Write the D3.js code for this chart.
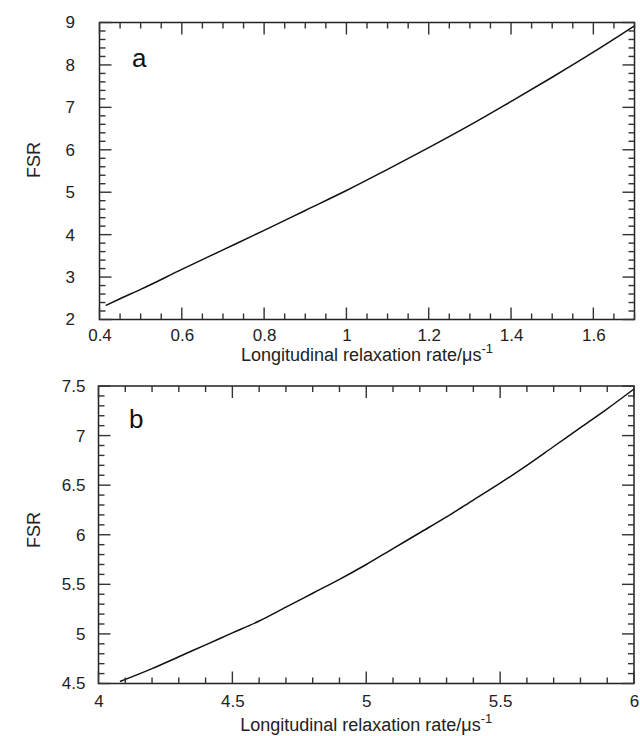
<!DOCTYPE html>
<html>
<head>
<meta charset="utf-8">
<script src="https://cdn.jsdelivr.net/npm/d3@7"></script>
<style>
  body { margin: 0; background: #fff; }
  svg { display: block; font-family: "Liberation Sans", Arial, Helvetica, sans-serif; }
</style>
</head>
<body>
<svg id="chart" width="640" height="736"></svg>
<script>
// Panel a data
const rateA = [0.415, 0.45, 0.5, 0.6, 0.7, 0.8, 0.9, 1.0, 1.1, 1.2, 1.3, 1.4, 1.5, 1.6, 1.7];
const fsrA  = [2.33, 2.49, 2.71, 3.18, 3.64, 4.10, 4.57, 5.04, 5.54, 6.05, 6.58, 7.14, 7.71, 8.30, 8.92];

// Panel b data
const rateB = [4.08, 4.2, 4.3, 4.4, 4.5, 4.6, 4.7, 4.8, 4.9, 5.0, 5.1, 5.2, 5.3, 5.4, 5.5, 5.6, 5.7, 5.8, 5.9, 6.0];
const fsrB  = [4.52, 4.65, 4.77, 4.89, 5.01, 5.13, 5.27, 5.41, 5.55, 5.70, 5.86, 6.02, 6.18, 6.35, 6.52, 6.70, 6.89, 7.08, 7.27, 7.47];

// Tick values
const xTicksA = [0.4, 0.6, 0.8, 1, 1.2, 1.4, 1.6];
const yTicksA = [2, 3, 4, 5, 6, 7, 8, 9];
const xTicksB = [4, 4.5, 5, 5.5, 6];
const yTicksB = [4.5, 5, 5.5, 6, 6.5, 7, 7.5];

const svg = d3.select("#chart");

function drawPanel(p) {
    const x = d3.scaleLinear().domain(p.xDomain).range([p.left, p.right]);
    const y = d3.scaleLinear().domain(p.yDomain).range([p.bottom, p.top]);
    const g = svg.append("g");

    const xMinor = d3.range(p.xDomain[0], p.xDomain[1] + 1e-9, p.xMinorStep).map(v => +v.toFixed(4));
    const yMinor = d3.range(p.yDomain[0], p.yDomain[1] + 1e-9, p.yMinorStep).map(v => +v.toFixed(4));
    const isMajor = (v, list) => list.some(t => Math.abs(t - v) < 1e-6);

    // frame
    g.append("path")
        .attr("d", `M${p.left},${p.top}H${p.right}V${p.bottom}H${p.left}Z`)
        .attr("fill", "none").attr("stroke", "#222").attr("stroke-width", 1.5);

    // tick labels via axes
    g.append("g").attr("transform", `translate(0,${p.bottom})`)
        .call(d3.axisBottom(x).tickValues(p.xTicks).tickSize(0).tickPadding(p.xPad).tickFormat(d3.format("~g")));
    g.append("g").attr("transform", `translate(${p.left},0)`)
        .call(d3.axisLeft(y).tickValues(p.yTicks).tickSize(0).tickPadding(p.yPad).tickFormat(d3.format("~g")));
    g.selectAll(".domain").remove();
    g.selectAll(".tick line").remove();
    g.selectAll(".tick text").attr("font-size", 17).attr("fill", "#222");

    // curve
    const line = d3.line().x(d => x(d[0])).y(d => y(d[1])).curve(d3.curveMonotoneX);
    g.append("path")
        .datum(p.xs.map((v, i) => [v, p.ys[i]]))
        .attr("d", line)
        .attr("fill", "none").attr("stroke", "#111").attr("stroke-width", 1.5);

    // inward ticks on all four sides, as thin filled rects
    const tw = 1.4;
    const tk = g.append("g").attr("fill", "#333");
    const xLen = d => isMajor(d, p.xTicks) ? 12 : 6;
    const yLen = d => isMajor(d, p.yTicks) ? 12 : 6;
    tk.selectAll("rect.xb").data(xMinor).join("rect").attr("class", "xb")
        .attr("x", d => x(d) - tw / 2).attr("width", tw)
        .attr("y", d => p.bottom - xLen(d)).attr("height", d => xLen(d));
    tk.selectAll("rect.xt").data(xMinor).join("rect").attr("class", "xt")
        .attr("x", d => x(d) - tw / 2).attr("width", tw)
        .attr("y", p.top).attr("height", d => xLen(d));
    tk.selectAll("rect.yl").data(yMinor).join("rect").attr("class", "yl")
        .attr("y", d => y(d) - tw / 2).attr("height", tw)
        .attr("x", p.left).attr("width", d => yLen(d));
    tk.selectAll("rect.yr").data(yMinor).join("rect").attr("class", "yr")
        .attr("y", d => y(d) - tw / 2).attr("height", tw)
        .attr("x", d => p.right - yLen(d)).attr("width", d => yLen(d));

    // axis title
    const t = g.append("text")
        .attr("x", (p.left + p.right) / 2)
        .attr("y", p.titleY)
        .attr("text-anchor", "middle")
        .attr("font-size", 18)
        .attr("fill", "#222");
    t.append("tspan").text("Longitudinal relaxation rate/\u03bcs");
    t.append("tspan").attr("dy", -8).attr("font-size", 13).text("-1");

    // y label
    g.append("text")
        .attr("transform", `translate(${p.yLabelX},${p.yLabelY}) rotate(-90)`)
        .attr("text-anchor", "middle")
        .attr("font-size", 18)
        .attr("fill", "#222")
        .text("FSR");

    // panel letter
    g.append("text")
        .attr("x", p.letterX).attr("y", p.letterY)
        .attr("font-size", 26)
        .attr("fill", "#111")
        .text(p.letter);
}

drawPanel({
    xs: rateA, ys: fsrA, xTicks: xTicksA, yTicks: yTicksA,
    xDomain: [0.4, 1.7], yDomain: [2, 9], xMinorStep: 0.05, yMinorStep: 0.2,
    left: 99.5, right: 634.5, top: 22.5, bottom: 319.5,
    xPad: 9.5, yPad: 24.5, titleY: 361, yLabelX: 40, yLabelY: 160,
    letter: "a", letterX: 132, letterY: 67
});

drawPanel({
    xs: rateB, ys: fsrB, xTicks: xTicksB, yTicks: yTicksB,
    xDomain: [4, 6], yDomain: [4.5, 7.5], xMinorStep: 0.1, yMinorStep: 0.1,
    left: 98.5, right: 634, top: 386, bottom: 683.5,
    xPad: 11.5, yPad: 13, titleY: 731, yLabelX: 40, yLabelY: 530,
    letter: "b", letterX: 129, letterY: 428
});
</script>
</body>
</html>
